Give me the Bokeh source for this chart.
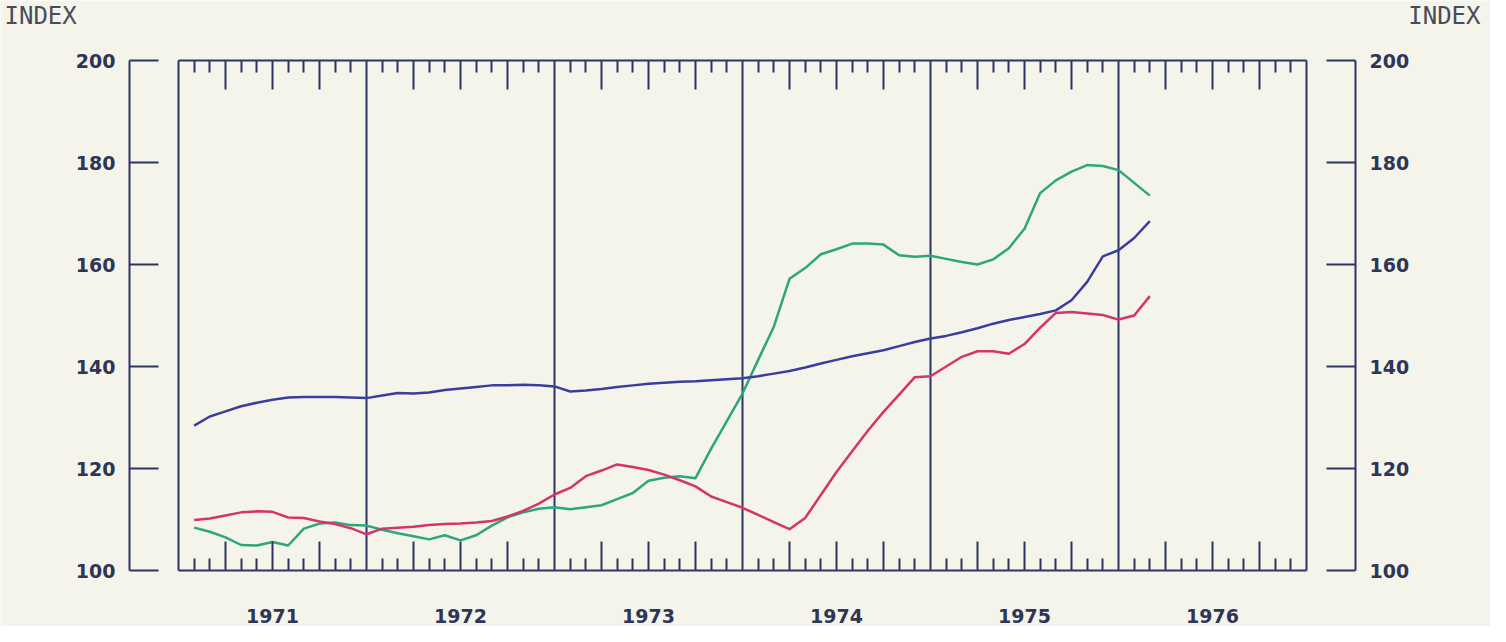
import pandas as pd
from bokeh.plotting import figure
from bokeh.models import (Range1d, LinearAxis, FixedTicker, CustomJSTickFormatter, Label)
from bokeh.embed import file_html
from bokeh.resources import INLINE

# ---------------- data (monthly, Feb 1971 - Mar 1976) ----------------
dates = pd.date_range("1971-02-01", "1976-03-01", freq="MS")

series_blue = [
    128.4, 130.2, 131.2, 132.2, 132.9, 133.5, 133.9, 134.0, 134.0, 134.0, 133.9,
    133.8, 134.3, 134.8, 134.7, 134.9, 135.4, 135.7, 136.0, 136.3, 136.3, 136.4, 136.3,
    136.1, 135.1, 135.3, 135.6, 136.0, 136.3, 136.6, 136.8, 137.0, 137.1, 137.3, 137.5,
    137.7, 138.1, 138.6, 139.1, 139.8, 140.6, 141.3, 142.0, 142.6, 143.2, 144.0, 144.8,
    145.5, 146.0, 146.7, 147.5, 148.4, 149.1, 149.7, 150.3, 151.0, 153.0, 156.6, 161.6,
    162.8, 165.2, 168.5,
]
series_red = [
    109.9, 110.2, 110.8, 111.4, 111.6, 111.5, 110.4, 110.3, 109.6, 109.1, 108.3,
    107.1, 108.2, 108.4, 108.6, 108.9, 109.1, 109.2, 109.4, 109.7, 110.6, 111.7, 113.1,
    114.9, 116.2, 118.5, 119.6, 120.8, 120.3, 119.7, 118.8, 117.7, 116.5, 114.5, 113.4,
    112.3, 110.9, 109.5, 108.1, 110.3, 114.8, 119.3, 123.4, 127.4, 131.1, 134.5, 137.9,
    138.1, 140.0, 141.9, 143.0, 143.0, 142.5, 144.4, 147.6, 150.5, 150.7, 150.4, 150.1,
    149.2, 150.0, 153.8,
]
series_green = [
    108.4, 107.6, 106.5, 105.0, 104.9, 105.6, 104.9, 108.2, 109.2, 109.4, 108.9,
    108.8, 108.0, 107.3, 106.7, 106.1, 106.9, 105.9, 106.9, 108.8, 110.4, 111.4, 112.1,
    112.4, 112.0, 112.4, 112.8, 114.0, 115.2, 117.6, 118.2, 118.5, 118.1, 123.9, 129.3,
    134.7, 141.3, 147.8, 157.2, 159.3, 162.0, 163.0, 164.1, 164.1, 163.9, 161.8, 161.5,
    161.7, 161.1, 160.5, 160.0, 161.0, 163.2, 167.0, 174.0, 176.5, 178.2, 179.5, 179.3,
    178.5, 176.0, 173.5,
]

years = [1971, 1972, 1973, 1974, 1975, 1976]
y_ticks = [100, 120, 140, 160, 180, 200]
axis_title = "INDEX"

x_vals = [d.year + (d.month - 1) / 12 for d in dates]

# ---------------- style / layout ----------------
BG = "#f5f4ea"
NAVY = "#2c3462"
TXT = "#2f3555"
C_BLUE = "#3b3d9e"
C_RED = "#d4336b"
C_GREEN = "#2ba67d"
NUM_FONT = "DejaVu Sans"

W, H = 1490, 626
# plot box inside the canvas (pixels)
BOX_L, BOX_R, BOX_T, BOX_B = 178, 1306, 60, 570
AX_GAP = 49  # px between plot box and the separate value axes

x0, x1 = years[0], years[-1] + 1
y0, y1 = y_ticks[0], y_ticks[-1]
ppx = (BOX_R - BOX_L) / (x1 - x0)
ppy = (BOX_B - BOX_T) / (y1 - y0)

xr = Range1d(x0 - BOX_L / ppx, x1 + (W - BOX_R) / ppx)
yr = Range1d(y0 - (H - BOX_B) / ppy, y1 + BOX_T / ppy)

p = figure(width=W, height=H, x_range=xr, y_range=yr,
           output_backend="svg", toolbar_location=None,
           x_axis_type=None, y_axis_type=None, min_border=0,
           background_fill_color=BG, border_fill_color=BG,
           outline_line_color=None)
p.grid.visible = False

# vertical box sides + year divider lines
bounds = years + [x1]
p.segment(x0=bounds, y0=[y0] * len(bounds), x1=bounds, y1=[y1] * len(bounds),
          line_color=NAVY, line_width=2)

quarters = [y + q / 4 for y in years for q in (1, 2, 3)]
months = [y + m / 12 for y in years for m in range(1, 12) if m % 3]

label_fmt = CustomJSTickFormatter(code="""
    const f = tick - Math.floor(tick);
    return Math.abs(f - 0.5) < 1e-6 ? String(Math.floor(tick)) : "";
""")
blank_fmt = CustomJSTickFormatter(code="return '';")

def style_x(ax):
    ax.bounds = (x0, x1)
    ax.major_tick_in = 29
    ax.major_tick_out = 0
    ax.minor_tick_in = 12
    ax.minor_tick_out = 0
    ax.major_tick_line_color = NAVY
    ax.minor_tick_line_color = NAVY
    ax.major_tick_line_width = 2
    ax.minor_tick_line_width = 2
    ax.axis_line_color = NAVY
    ax.axis_line_width = 2

xb = LinearAxis(ticker=FixedTicker(ticks=quarters, minor_ticks=months), formatter=label_fmt,
                fixed_location=y0)
style_x(xb)
xb.major_label_standoff = 38
xb.major_label_text_font = NUM_FONT
xb.major_label_text_font_size = "19px"
xb.major_label_text_font_style = "bold"
xb.major_label_text_color = TXT
p.add_layout(xb, "below")

xt = LinearAxis(ticker=FixedTicker(ticks=quarters, minor_ticks=months), formatter=blank_fmt,
                fixed_location=y1)
style_x(xt)
xt.major_label_text_font_size = "1px"
p.add_layout(xt, "above")

def style_y(ax):
    ax.ticker = FixedTicker(ticks=y_ticks)
    ax.bounds = (y0, y1)
    ax.major_tick_in = 29
    ax.major_tick_out = 0
    ax.minor_tick_in = 0
    ax.minor_tick_out = 0
    ax.major_tick_line_color = NAVY
    ax.major_tick_line_width = 2
    ax.axis_line_color = NAVY
    ax.axis_line_width = 2
    ax.major_label_standoff = 14
    ax.major_label_text_font = NUM_FONT
    ax.major_label_text_font_size = "19px"
    ax.major_label_text_font_style = "bold"
    ax.major_label_text_color = TXT

yl = LinearAxis(fixed_location=x0 - AX_GAP / ppx)
style_y(yl)
p.add_layout(yl, "left")
yrax = LinearAxis(fixed_location=x1 + AX_GAP / ppx)
style_y(yrax)
p.add_layout(yrax, "right")

# data lines
for ys, col in ((series_green, C_GREEN), (series_red, C_RED), (series_blue, C_BLUE)):
    p.line(x_vals, ys, line_color=col, line_width=2.5, line_join="round")

# "INDEX" labels
for xa, align, xo in ((x0, "left", -174), (x1, "right", 174)):
    p.add_layout(Label(x=xa, y=y1, x_offset=xo, y_offset=59, text=axis_title,
                       text_align=align, text_baseline="top", text_font="DejaVu Sans Mono",
                       text_font_size="24px", text_color="#4a4b58"))

open("out.html", "w").write(file_html(p, INLINE))
